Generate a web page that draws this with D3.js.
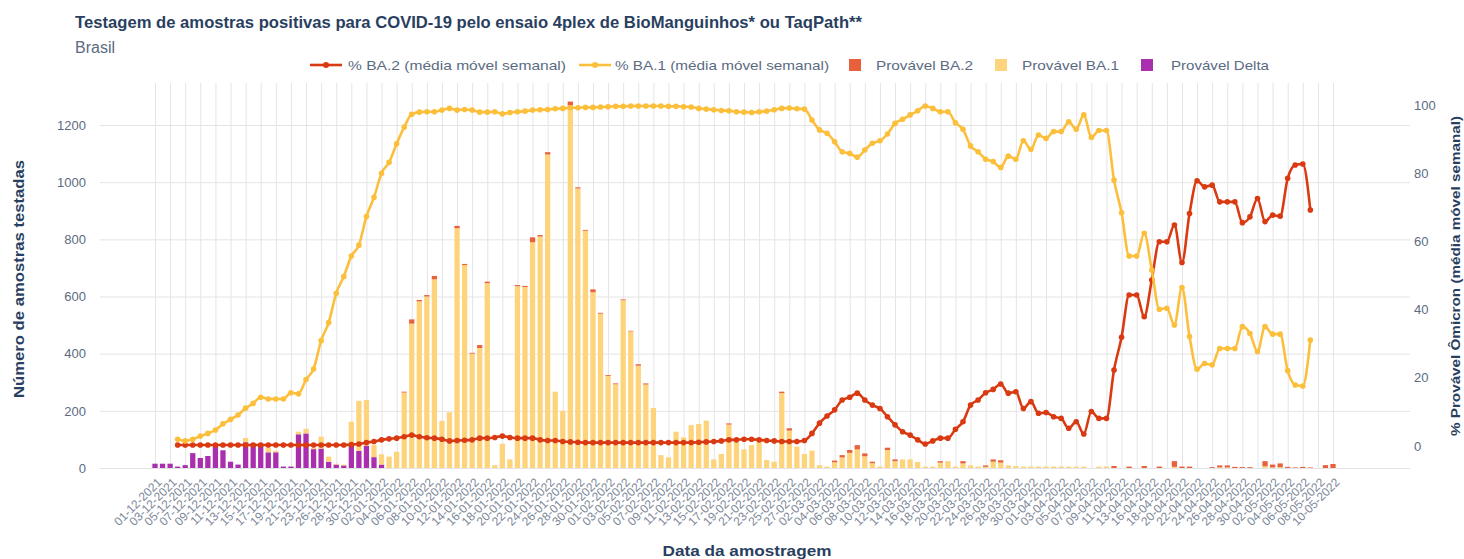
<!DOCTYPE html>
<html>
<head>
<meta charset="utf-8">
<script src="https://cdn.jsdelivr.net/npm/d3@7"></script>
<style>
  body { margin: 0; background: #fff; }
  svg { display: block; }
</style>
</head>
<body>
<svg id="chart"></svg>
<script>
// dados (amostras por dia e médias móveis)
const skippedDates = ["25-12-2021", "01-01-2022", "01-03-2022", "15-04-2022"];
const fmtDay = d3.timeFormat("%d-%m-%Y");
const dates = d3.timeDay.range(new Date(2021, 11, 1), new Date(2022, 4, 11))
  .map(fmtDay)
  .filter(d => !skippedDates.includes(d));

const delta = [
  15, 15, 15, 5, 10, 52, 35, 42, 82, 62,
  22, 12, 90, 85, 80, 55, 55, 5, 5, 118,
  121, 66, 68, 22, 12, 9, 80, 60, 78, 38,
  12, 0, 0, 0, 0, 0, 0, 0, 0, 0,
  0, 0, 0, 0, 0, 0, 0, 0, 0, 0,
  0, 0, 0, 0, 0, 0, 0, 0, 0, 0,
  0, 0, 0, 0, 0, 0, 0, 0, 0, 0,
  0, 0, 0, 0, 0, 0, 0, 0, 0, 0,
  0, 0, 0, 0, 0, 0, 0, 0, 0, 0,
  0, 0, 0, 0, 0, 0, 0, 0, 0, 0,
  0, 0, 0, 0, 0, 0, 0, 0, 0, 0,
  0, 0, 0, 0, 0, 0, 0, 0, 0, 0,
  0, 0, 0, 0, 0, 0, 0, 0, 0, 0,
  0, 0, 0, 0, 0, 0, 0, 0, 0, 0,
  0, 0, 0, 0, 0, 0, 0, 0, 0, 0,
  0, 0, 0, 0, 0, 0, 0
];

const ba1 = [
  0, 0, 0, 0, 0, 0, 0, 0, 0, 0,
  0, 0, 15, 0, 0, 15, 5, 0, 0, 9,
  16, 4, 42, 18, 3, 3, 82, 175, 160, 42,
  36, 40, 57, 264, 505, 583, 600, 660, 165, 195,
  839, 710, 400, 420, 647, 10, 85, 30, 636, 633,
  790, 810, 1097, 267, 200, 1268, 978, 830, 615, 540,
  322, 293, 587, 478, 358, 292, 210, 45, 37, 127,
  107, 150, 154, 166, 30, 49, 152, 92, 65, 80,
  92, 28, 22, 262, 131, 75, 49, 61, 10, 5,
  20, 37, 53, 65, 41, 17, 5, 63, 24, 30,
  30, 21, 5, 5, 19, 24, 5, 16, 9, 5,
  4, 22, 19, 9, 7, 5, 5, 5, 5, 5,
  5, 5, 5, 5, 0, 5, 5, 0, 0, 0,
  0, 0, 0, 0, 0, 4, 0, 0, 0, 0,
  0, 2, 2, 0, 0, 0, 0, 6, 2, 3,
  0, 0, 0, 0, 0, 0, 0
];

const ba2 = [
  0, 0, 0, 0, 0, 0, 0, 0, 0, 0,
  0, 0, 0, 0, 0, 0, 0, 0, 0, 0,
  0, 0, 0, 0, 0, 0, 0, 0, 0, 0,
  0, 0, 0, 3, 15, 5, 5, 12, 0, 0,
  8, 4, 3, 10, 5, 0, 0, 0, 4, 4,
  17, 5, 8, 0, 0, 14, 4, 3, 10, 3,
  3, 3, 3, 2, 5, 4, 0, 0, 0, 0,
  0, 0, 0, 0, 0, 0, 4, 0, 0, 0,
  0, 0, 0, 5, 8, 0, 0, 0, 0, 0,
  6, 8, 10, 15, 10, 5, 0, 8, 6, 0,
  0, 0, 0, 0, 5, 0, 0, 8, 0, 0,
  5, 8, 8, 0, 0, 0, 0, 0, 0, 0,
  0, 0, 0, 0, 0, 0, 0, 7, 0, 5,
  0, 7, 0, 5, 0, 20, 5, 5, 0, 0,
  3, 7, 7, 4, 3, 3, 0, 18, 10, 13,
  4, 2, 4, 2, 0, 10, 14
];

// % média móvel semanal
const pctBA1 = [
  null, null, null, 2.0, 1.5, 2.0, 2.9, 3.7, 4.7, 6.5,
  7.8, 9.1, 11.1, 12.5, 14.3, 13.8, 13.8, 13.8, 15.6, 15.3,
  19.5, 22.6, 30.9, 36.2, 44.8, 49.7, 55.7, 58.9, 67.3, 72.9,
  80.0, 83.2, 88.6, 93.5, 97.3, 97.9, 98.0, 98.0, 98.5, 99.0,
  98.5, 98.7, 98.5, 97.9, 97.9, 98.0, 97.4, 97.8, 98.0, 98.2,
  98.5, 98.6, 98.7, 98.9, 99.0, 99.2, 99.2, 99.3, 99.3, 99.4,
  99.5, 99.6, 99.6, 99.7, 99.7, 99.7, 99.7, 99.7, 99.6, 99.6,
  99.5, 99.4, 99.0, 98.8, 98.6, 98.4, 98.3, 98.0, 97.9, 97.8,
  98.0, 98.2, 98.6, 99.0, 99.1, 98.9, 98.8, 95.6, 92.7, 91.7,
  89.2, 86.3, 85.8, 84.7, 86.8, 88.8, 89.5, 91.5, 94.6, 95.8,
  97.1, 98.3, 99.7, 99.0, 98.0, 98.0, 94.8, 92.9, 88.0, 86.3,
  84.1, 83.4, 81.7, 85.0, 84.1, 89.5, 87.0, 91.2, 90.2, 92.2,
  92.2, 95.1, 92.9, 97.1, 90.5, 92.5, 92.5, 78.0, 68.4, 55.7,
  55.7, 62.4, 51.6, 40.1, 40.4, 35.5, 46.5, 32.1, 22.5, 24.2,
  23.8, 28.6, 28.6, 28.6, 35.0, 33.0, 27.7, 35.0, 32.8, 32.8,
  22.1, 17.9, 17.6, 31.1, null, null, null
];

const pctBA2 = [
  null, null, null, 0.3, 0.3, 0.3, 0.3, 0.3, 0.3, 0.3,
  0.3, 0.3, 0.3, 0.3, 0.3, 0.3, 0.3, 0.3, 0.3, 0.3,
  0.3, 0.3, 0.3, 0.3, 0.3, 0.3, 0.4, 0.6, 1.0, 1.3,
  1.8, 2.1, 2.3, 2.7, 3.2, 2.7, 2.4, 2.3, 2.0, 1.5,
  1.6, 1.7, 1.8, 2.3, 2.3, 2.5, 2.9, 2.5, 2.3, 2.3,
  2.3, 1.8, 1.6, 1.6, 1.3, 1.2, 1.1, 1.0, 1.0, 1.0,
  1.0, 1.0, 1.0, 1.0, 1.0, 1.0, 1.0, 1.0, 1.0, 1.0,
  1.0, 1.0, 1.1, 1.2, 1.3, 1.5, 1.8, 1.8, 2.0, 2.0,
  1.8, 1.6, 1.5, 1.3, 1.3, 1.3, 1.6, 3.7, 6.7, 8.8,
  10.6, 13.5, 14.3, 15.5, 13.5, 12.0, 11.0, 8.6, 6.2, 4.2,
  3.2, 1.8, 0.6, 1.5, 2.3, 2.3, 4.9, 7.1, 12.0, 13.5,
  15.6, 16.6, 18.2, 15.5, 15.9, 11.0, 13.0, 9.6, 9.8, 8.6,
  8.1, 5.2, 7.1, 3.5, 10.1, 8.1, 8.1, 22.3, 31.9, 44.3,
  44.3, 37.9, 48.7, 59.9, 59.9, 64.8, 53.8, 68.2, 77.8, 76.0,
  76.5, 71.6, 71.6, 71.6, 65.5, 67.2, 72.6, 65.8, 67.7, 67.4,
  78.5, 82.4, 82.7, 69.2, null, null, null
];

const leftTicks = [0, 200, 400, 600, 800, 1000, 1200];
const rightTicks = [0, 20, 40, 60, 80, 100];

const fontFamily = '"Liberation Sans", Arial, sans-serif';
const width = 1464, height = 559;
const plot = { left: 100, right: 1410, top: 83, bottom: 468 };
const colors = {
  delta: "#a92fae",
  ba1: "#fdd47c",
  ba2: "#e8603c",
  lineBA1: "#fcbf3b",
  lineBA2: "#d93a12"
};

const svg = d3.select("#chart").attr("width", width).attr("height", height);

const x = d3.scalePoint().domain(dates).range([155, 1333]);
const barW = x.step() * 0.7;
const yLeft = d3.scaleLinear().domain([0, 1347]).range([plot.bottom, plot.top]);
const yRight = d3.scaleLinear().domain([-6.45, 106.45]).range([plot.bottom, plot.top]);

// grade horizontal + rótulos eixo esquerdo
const gy = svg.append("g")
  .attr("transform", `translate(${plot.left},0)`)
  .call(d3.axisLeft(yLeft).tickValues(leftTicks).tickFormat(d3.format("d"))
    .tickSize(-(plot.right - plot.left)).tickPadding(14));
gy.select(".domain").remove();
gy.selectAll("line").attr("stroke", "#e4e4e4");
gy.selectAll("text").attr("fill", "#5b6b82").attr("font-family", fontFamily).attr("font-size", 13);

// grade vertical + datas
const tickDates = dates.filter((d, i) => i % 2 === 0);
const gx = svg.append("g")
  .attr("transform", `translate(0,${plot.bottom})`)
  .call(d3.axisBottom(x).tickValues(tickDates).tickSize(-(plot.bottom - plot.top)));
gx.select(".domain").remove();
gx.selectAll("line").attr("stroke", "#e4e4e4");
gx.selectAll("text")
  .attr("fill", "#7d8899")
  .attr("font-family", fontFamily)
  .attr("font-size", 12)
  .attr("text-anchor", "end")
  .attr("y", 0)
  .attr("dy", "0.35em")
  .attr("transform", "translate(4,12) rotate(-45)");

// eixo direito
const gr = svg.append("g")
  .attr("transform", `translate(${plot.right},0)`)
  .call(d3.axisRight(yRight).tickValues(rightTicks).tickSize(0).tickPadding(4));
gr.select(".domain").remove();
gr.selectAll("text").attr("fill", "#5b6b82").attr("font-family", fontFamily).attr("font-size", 13);

// barras empilhadas
const rows = dates.map((d, i) => ({ date: d, delta: delta[i], ba1: ba1[i], ba2: ba2[i] }));
const stacked = d3.stack().keys(["delta", "ba1", "ba2"])(rows);
svg.append("g")
  .selectAll("g")
  .data(stacked)
  .join("g")
  .attr("fill", s => colors[s.key])
  .selectAll("rect")
  .data(s => s)
  .join("rect")
  .attr("x", d => x(d.data.date) - barW / 2)
  .attr("width", barW)
  .attr("y", d => yLeft(d[1]))
  .attr("height", d => yLeft(d[0]) - yLeft(d[1]));

// linhas
const lineGen = d3.line()
  .defined(d => d.v != null)
  .x(d => x(d.date))
  .y(d => yRight(d.v))
  .curve(d3.curveMonotoneX);

function drawLine(values, color) {
  const pts = dates.map((d, i) => ({ date: d, v: values[i] }));
  const g = svg.append("g");
  g.append("path")
    .datum(pts)
    .attr("fill", "none")
    .attr("stroke", color)
    .attr("stroke-width", 2.6)
    .attr("d", lineGen);
  g.selectAll("circle")
    .data(pts.filter(p => p.v != null))
    .join("circle")
    .attr("cx", p => x(p.date))
    .attr("cy", p => yRight(p.v))
    .attr("r", 2.8)
    .attr("fill", color);
}
drawLine(pctBA2, colors.lineBA2);
drawLine(pctBA1, colors.lineBA1);

// títulos
svg.append("text")
  .attr("x", 75).attr("y", 28)
  .attr("font-family", fontFamily).attr("font-weight", "bold").attr("font-size", 16.5)
  .attr("fill", "#2a3f5f")
  .attr("textLength", 787).attr("lengthAdjust", "spacingAndGlyphs")
  .text("Testagem de amostras positivas para COVID-19 pelo ensaio 4plex de BioManguinhos* ou TaqPath**");
svg.append("text")
  .attr("x", 75).attr("y", 53)
  .attr("font-family", fontFamily).attr("font-size", 16)
  .attr("fill", "#5b6b82")
  .text("Brasil");

svg.append("text")
  .attr("transform", "translate(24,279) rotate(-90)")
  .attr("text-anchor", "middle")
  .attr("font-family", fontFamily).attr("font-weight", "bold").attr("font-size", 15)
  .attr("fill", "#2a3f5f")
  .attr("textLength", 238).attr("lengthAdjust", "spacingAndGlyphs")
  .text("Número de amostras testadas");
svg.append("text")
  .attr("transform", "translate(1460,276) rotate(-90)")
  .attr("text-anchor", "middle")
  .attr("font-family", fontFamily).attr("font-weight", "bold").attr("font-size", 13)
  .attr("fill", "#2a3f5f")
  .attr("textLength", 320).attr("lengthAdjust", "spacingAndGlyphs")
  .text("% Provável Ômicron (média móvel semanal)");
svg.append("text")
  .attr("x", 747).attr("y", 556)
  .attr("text-anchor", "middle")
  .attr("font-family", fontFamily).attr("font-weight", "bold").attr("font-size", 15)
  .attr("fill", "#2a3f5f")
  .attr("textLength", 169).attr("lengthAdjust", "spacingAndGlyphs")
  .text("Data da amostragem");

// legenda
const legendY = 65;
const legendItems = [
  { label: "% BA.2 (média móvel semanal)", type: "line", color: colors.lineBA2, x: 310, tx: 348, w: 218 },
  { label: "% BA.1 (média móvel semanal)", type: "line", color: colors.lineBA1, x: 579, tx: 615, w: 214 },
  { label: "Provável BA.2", type: "bar", color: colors.ba2, x: 849, tx: 876, w: 97 },
  { label: "Provável BA.1", type: "bar", color: colors.ba1, x: 995, tx: 1022, w: 97 },
  { label: "Provável Delta", type: "bar", color: colors.delta, x: 1141, tx: 1171, w: 98 }
];
const lg = svg.append("g");
legendItems.forEach(it => {
  if (it.type === "line") {
    lg.append("line").attr("x1", it.x).attr("x2", it.x + 32)
      .attr("y1", legendY).attr("y2", legendY)
      .attr("stroke", it.color).attr("stroke-width", 2.6);
    lg.append("circle").attr("cx", it.x + 16).attr("cy", legendY).attr("r", 3).attr("fill", it.color);
  } else {
    lg.append("rect").attr("x", it.x).attr("y", legendY - 6).attr("width", 12).attr("height", 12)
      .attr("fill", it.color);
  }
  lg.append("text").attr("x", it.tx).attr("y", legendY).attr("dy", "0.35em")
    .attr("font-family", fontFamily).attr("font-size", 13.5).attr("fill", "#5b6b82")
    .attr("textLength", it.w).attr("lengthAdjust", "spacingAndGlyphs")
    .text(it.label);
});
</script>
</body>
</html>
